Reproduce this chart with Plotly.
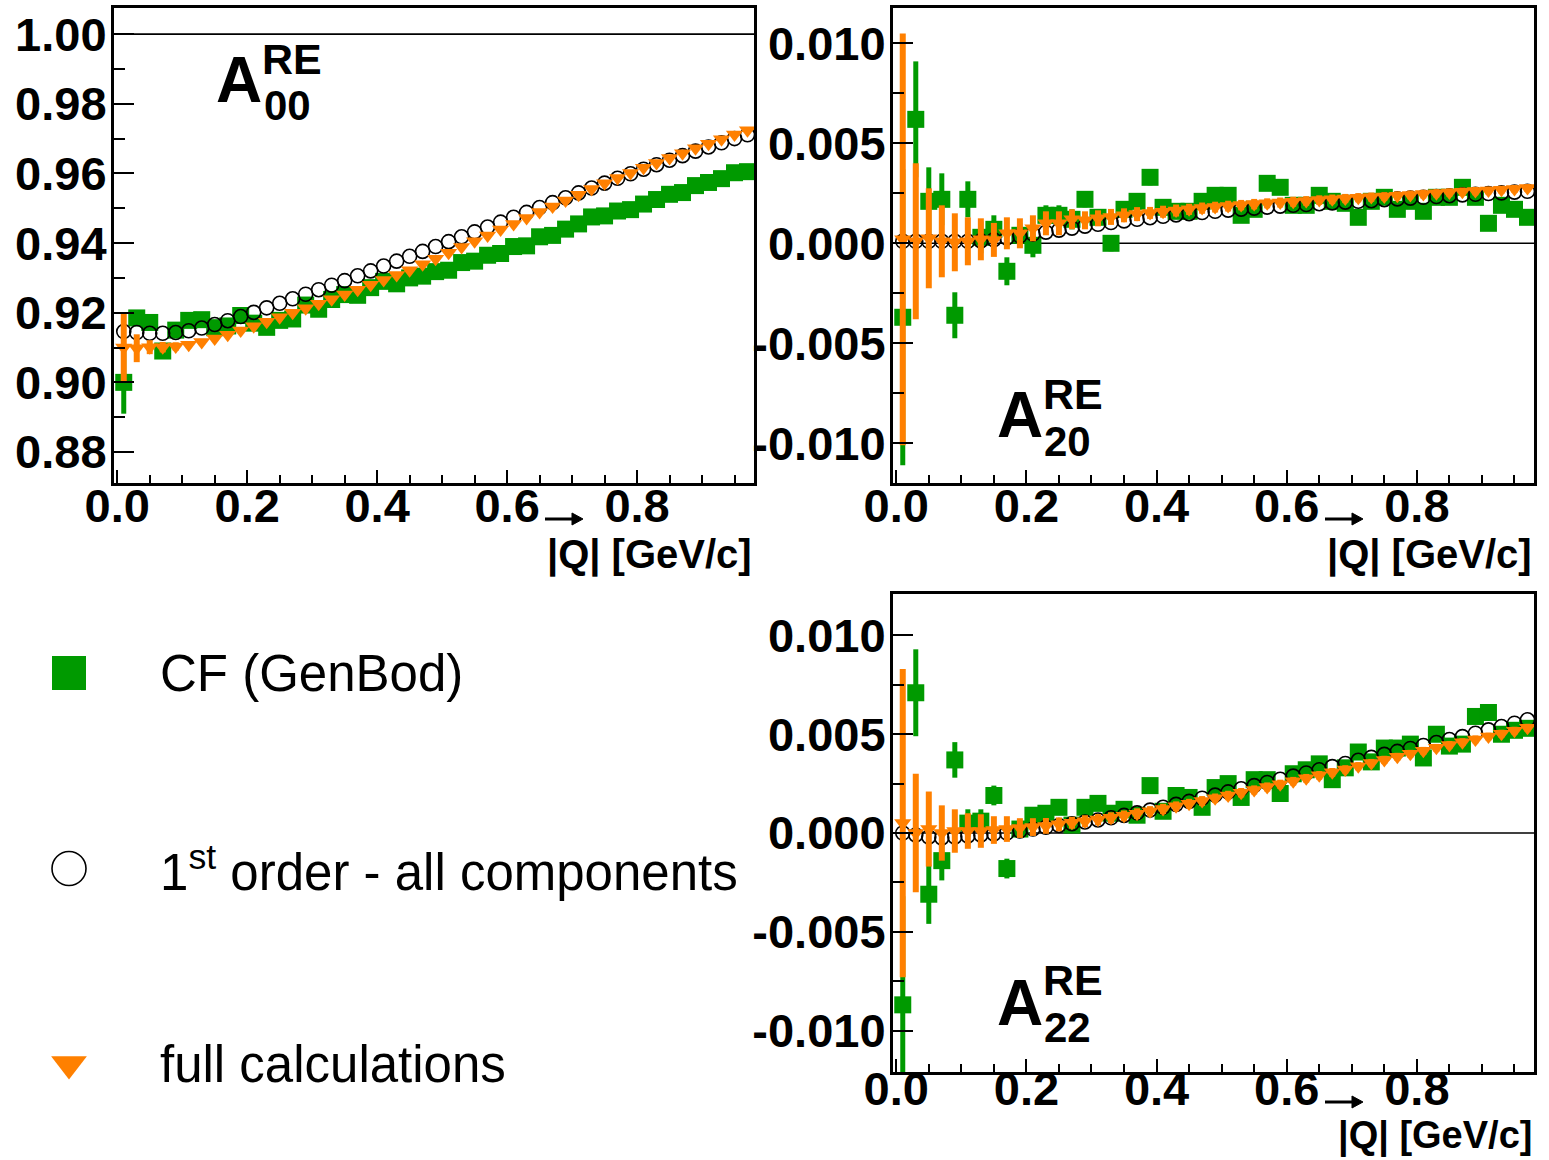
import plotly.graph_objects as go

# ---------------- data ----------------
Q = [0.01, 0.03, 0.05, 0.07, 0.09, 0.11, 0.13, 0.15, 0.17, 0.19,
     0.21, 0.23, 0.25, 0.27, 0.29, 0.31, 0.33, 0.35, 0.37, 0.39,
     0.41, 0.43, 0.45, 0.47, 0.49, 0.51, 0.53, 0.55, 0.57, 0.59,
     0.61, 0.63, 0.65, 0.67, 0.69, 0.71, 0.73, 0.75, 0.77, 0.79,
     0.81, 0.83, 0.85, 0.87, 0.89, 0.91, 0.93, 0.95, 0.97]

# A00 (real part)
A00_CF = [0.9000, 0.9185, 0.9172, 0.9090, 0.9150, 0.9178, 0.9180, 0.9157, 0.9162, 0.9192,
          0.9170, 0.9158, 0.9178, 0.9182, 0.9222, 0.9210, 0.9238, 0.9252, 0.9250, 0.9272,
          0.9290, 0.9283, 0.9300, 0.9305, 0.9318, 0.9322, 0.9344, 0.9348, 0.9365, 0.9370,
          0.9390, 0.9392, 0.9418, 0.9422, 0.9440, 0.9455, 0.9475, 0.9478, 0.9492, 0.9496,
          0.9512, 0.9525, 0.9540, 0.9545, 0.9565, 0.9574, 0.9585, 0.9602, 0.9605]
A00_CF_ERR = [0.0090, 0.0020, 0.0015, 0.0012, 0.0010, 0.0009, 0.0008, 0.0008, 0.0008, 0.0008,
              0.0008, 0.0008, 0.0008, 0.0008, 0.0008, 0.0008, 0.0008, 0.0008, 0.0008, 0.0008,
              0.0008, 0.0008, 0.0008, 0.0008, 0.0008, 0.0008, 0.0008, 0.0008, 0.0008, 0.0008,
              0.0008, 0.0008, 0.0008, 0.0008, 0.0008, 0.0008, 0.0008, 0.0008, 0.0008, 0.0008,
              0.0008, 0.0008, 0.0008, 0.0008, 0.0008, 0.0008, 0.0008, 0.0008, 0.0008]
A00_FIRST = [0.9146, 0.9143, 0.9141, 0.9141, 0.9143, 0.9148, 0.9156, 0.9166, 0.9177, 0.9189,
             0.9201, 0.9214, 0.9227, 0.9240, 0.9253, 0.9266, 0.9279, 0.9292, 0.9306, 0.9320,
             0.9334, 0.9348, 0.9362, 0.9376, 0.9390, 0.9404, 0.9418, 0.9432, 0.9446, 0.9460,
             0.9474, 0.9488, 0.9502, 0.9516, 0.9530, 0.9544, 0.9558, 0.9572, 0.9586, 0.9599,
             0.9612, 0.9625, 0.9638, 0.9651, 0.9664, 0.9676, 0.9688, 0.9700, 0.9711]
A00_FULL = [0.9100, 0.9098, 0.9101, 0.9101, 0.9103, 0.9108, 0.9116, 0.9126, 0.9137, 0.9149,
            0.9161, 0.9174, 0.9187, 0.9200, 0.9213, 0.9226, 0.9239, 0.9252, 0.9266, 0.9280,
            0.9294, 0.9308, 0.9322, 0.9339, 0.9355, 0.9372, 0.9389, 0.9405, 0.9422, 0.9439,
            0.9455, 0.9472, 0.9489, 0.9505, 0.9522, 0.9539, 0.9555, 0.9572, 0.9587, 0.9601,
            0.9616, 0.9630, 0.9644, 0.9658, 0.9672, 0.9685, 0.9698, 0.9712, 0.9724]
A00_FULL_ERR = [0.0100, 0.0040, 0.0020, 0.0015, 0.0012, 0.0010, 0.0009, 0.0008, 0.0008, 0.0008,
                0.0008, 0.0008, 0.0008, 0.0008, 0.0008, 0.0008, 0.0008, 0.0008, 0.0008, 0.0008,
                0.0008, 0.0008, 0.0008, 0.0008, 0.0008, 0.0008, 0.0008, 0.0008, 0.0008, 0.0008,
                0.0008, 0.0008, 0.0008, 0.0008, 0.0008, 0.0008, 0.0008, 0.0008, 0.0008, 0.0008,
                0.0008, 0.0008, 0.0008, 0.0008, 0.0008, 0.0008, 0.0008, 0.0008, 0.0008]

# A20 (real part)
A20_CF = [-0.0037, 0.0062, 0.0021, 0.0022, -0.0036, 0.0022, 0.0003, 0.0007, -0.0014, 0.0004,
          -0.0001, 0.0014, 0.0014, 0.0012, 0.0022, 0.0013, 0.0000, 0.0017, 0.0021, 0.0033,
          0.0018, 0.0016, 0.0016, 0.0021, 0.0024, 0.0024, 0.0014, 0.0017, 0.0030, 0.0028,
          0.0019, 0.0019, 0.0024, 0.0021, 0.0020, 0.0013, 0.0021, 0.0023, 0.0017, 0.0021,
          0.0016, 0.0023, 0.0023, 0.0028, 0.0023, 0.0010, 0.0019, 0.0017, 0.0013]
A20_CF_ERR = [0.0074, 0.0029, 0.0017, 0.0013, 0.00115, 0.0009, 0.0008, 0.0007, 0.0007, 0.0006,
              0.0006, 0.0005, 0.0005, 0.0005, 0.0004, 0.0004, 0.0004, 0.0004, 0.0004, 0.0004,
              0.0003, 0.0003, 0.0003, 0.0003, 0.0003, 0.0003, 0.0003, 0.0003, 0.0003, 0.0003,
              0.0003, 0.0003, 0.0003, 0.0003, 0.0003, 0.0003, 0.0003, 0.0003, 0.0003, 0.0003,
              0.0003, 0.0003, 0.0003, 0.0003, 0.0003, 0.0003, 0.0003, 0.0003, 0.0003]
A20_FIRST = [0.0001, 0.0001, 0.0001, 0.0001, 0.0001, 0.0001, 0.00012, 0.00018, 0.00026, 0.00036,
             0.00046, 0.00056, 0.00066, 0.00076, 0.00086, 0.00095, 0.00104, 0.00112, 0.00120, 0.00128,
             0.00135, 0.00142, 0.00148, 0.00154, 0.00160, 0.00166, 0.00171, 0.00176, 0.00181, 0.00186,
             0.00190, 0.00194, 0.00198, 0.00202, 0.00206, 0.00210, 0.00213, 0.00218, 0.00222, 0.00226,
             0.00230, 0.00234, 0.00238, 0.00242, 0.00245, 0.00249, 0.00252, 0.00256, 0.00260]
A20_FULL = [0.0002, 0.0001, 0.00025, 0.0001, 0.00005, 0.0001, 0.0002, 0.00017, 0.0005, 0.0005,
            0.00075, 0.0010, 0.0010, 0.0012, 0.00115, 0.00125, 0.00132, 0.0014, 0.00146, 0.00152,
            0.00158, 0.00164, 0.0017, 0.00176, 0.00181, 0.00186, 0.00191, 0.00196, 0.0020, 0.00204,
            0.00208, 0.00212, 0.00216, 0.0022, 0.00224, 0.00228, 0.00231, 0.00234, 0.00238, 0.00242,
            0.00246, 0.0025, 0.00254, 0.00258, 0.00261, 0.00264, 0.00268, 0.00272, 0.00276]
A20_FULL_ERR = [0.0103, 0.0039, 0.0025, 0.0018, 0.00145, 0.0012, 0.00105, 0.00085, 0.0008, 0.00075,
                0.00065, 0.0006, 0.0006, 0.0005, 0.00045, 0.0004, 0.0004, 0.00035, 0.00035, 0.0003,
                0.0003, 0.0003, 0.00028, 0.00028, 0.00027, 0.00027, 0.00026, 0.00026, 0.00025, 0.00025,
                0.00025, 0.00024, 0.00024, 0.00024, 0.00023, 0.00023, 0.00023, 0.00022, 0.00022, 0.00022,
                0.00022, 0.00021, 0.00021, 0.00021, 0.00021, 0.0002, 0.0002, 0.0002, 0.0002]

# A22 (real part)
A22_CF = [-0.0087, 0.0071, -0.0031, -0.0014, 0.0037, 0.0005, 0.0006, 0.0019, -0.0018, 0.0002,
          0.0009, 0.0010, 0.0013, 0.0004, 0.0013, 0.0015, 0.0010, 0.0012, 0.0009, 0.0024,
          0.0011, 0.0019, 0.0018, 0.0013, 0.0023, 0.0025, 0.0018, 0.0027, 0.0027, 0.0020,
          0.0030, 0.0032, 0.0035, 0.0027, 0.0033, 0.0041, 0.0036, 0.0043, 0.0043, 0.0045,
          0.0038, 0.0050, 0.0044, 0.0045, 0.0059, 0.0061, 0.0050, 0.0052, 0.0053]
A22_CF_ERR = [0.0055, 0.0022, 0.0015, 0.0010, 0.0009, 0.0007, 0.0006, 0.0005, 0.0005, 0.0004,
              0.0003, 0.0003, 0.0003, 0.0003, 0.0003, 0.0003, 0.0003, 0.0003, 0.0003, 0.0003,
              0.0003, 0.0003, 0.0003, 0.0003, 0.0003, 0.0003, 0.0003, 0.0003, 0.0003, 0.0003,
              0.0003, 0.0003, 0.0003, 0.0003, 0.0003, 0.0003, 0.0003, 0.0003, 0.0003, 0.0003,
              0.0003, 0.0003, 0.0003, 0.0003, 0.0003, 0.0003, 0.0003, 0.0003, 0.0003]
A22_FIRST = [0.0000, -0.0001, -0.0002, -0.00025, -0.0002, -0.00015, -0.0001, -0.00005, 0.0000, 0.0001,
             0.0002, 0.00029, 0.00038, 0.00047, 0.00056, 0.00066, 0.00077, 0.00089, 0.00102, 0.00116,
             0.0013, 0.00145, 0.0016, 0.00176, 0.00192, 0.00208, 0.00224, 0.0024, 0.00256, 0.00272,
             0.00288, 0.00304, 0.0032, 0.00336, 0.00352, 0.00368, 0.00383, 0.00398, 0.00413, 0.00428,
             0.00443, 0.00458, 0.00473, 0.00488, 0.00505, 0.00522, 0.00539, 0.00556, 0.00573]
A22_FULL = [0.0005, 0.0000, 0.0002, 0.0000, 0.0001, 0.0001, 0.0001, 0.00015, 0.0002, 0.00025,
            0.0003, 0.00036, 0.00044, 0.00052, 0.0006, 0.00068, 0.00077, 0.00087, 0.00098, 0.0011,
            0.00122, 0.00135, 0.00148, 0.00162, 0.00176, 0.0019, 0.00204, 0.00218, 0.00233, 0.00247,
            0.00262, 0.00277, 0.00292, 0.00307, 0.00322, 0.00338, 0.00354, 0.0037, 0.00386, 0.00401,
            0.00416, 0.00431, 0.00446, 0.0046, 0.00474, 0.00488, 0.00503, 0.00518, 0.00533]
A22_FULL_ERR = [0.0078, 0.0030, 0.0019, 0.0014, 0.0011, 0.0009, 0.00085, 0.0007, 0.00065, 0.0005,
                0.00045, 0.0004, 0.00035, 0.0003, 0.0003, 0.00028, 0.00028, 0.00027, 0.00027, 0.00026,
                0.00026, 0.00025, 0.00025, 0.00025, 0.00024, 0.00024, 0.00024, 0.00023, 0.00023, 0.00023,
                0.00022, 0.00022, 0.00022, 0.00022, 0.00021, 0.00021, 0.00021, 0.00021, 0.0002, 0.0002,
                0.0002, 0.0002, 0.0002, 0.0002, 0.0002, 0.0002, 0.0002, 0.0002, 0.0002]

SERIES_NAMES = ["CF (GenBod)", "1<sup>st</sup> order - all components", "full calculations"]
X_TICKS = [0.0, 0.2, 0.4, 0.6, 0.8]
X_TICK_TEXT = ["0.0", "0.2", "0.4", "0.6", "0.8"]
A00_TICKS = [0.88, 0.90, 0.92, 0.94, 0.96, 0.98, 1.00]
A00_TICK_TEXT = ["0.88", "0.90", "0.92", "0.94", "0.96", "0.98", "1.00"]
A2X_TICKS = [-0.010, -0.005, 0.0, 0.005, 0.010]
A2X_TICK_TEXT = ["-0.010", "-0.005", "0.000", "0.005", "0.010"]
X_TITLE = "|Q| [GeV/c]"

# ---------------- style ----------------
W, H = 1549, 1160
GREEN = "#009a00"
ORANGE = "#ff8000"
FONT = "Liberation Sans, Arial, Helvetica, sans-serif"


def px_x(p):
    return p / W


def px_y(p):
    return 1 - p / H


fig = go.Figure()

panels = [
    ("x", "y", A00_CF, A00_CF_ERR, A00_FIRST, A00_FULL, A00_FULL_ERR),
    ("x2", "y2", A20_CF, A20_CF_ERR, A20_FIRST, A20_FULL, A20_FULL_ERR),
    ("x3", "y3", A22_CF, A22_CF_ERR, A22_FIRST, A22_FULL, A22_FULL_ERR),
]

for xa, ya, cf, cf_err, first, full, full_err in panels:
    fig.add_trace(go.Scatter(
        x=Q, y=cf, xaxis=xa, yaxis=ya, mode="markers", showlegend=False,
        marker=dict(symbol="square", size=17, color=GREEN, line=dict(width=0)),
        error_y=dict(type="data", array=cf_err, thickness=5, width=0, color=GREEN)))
    fig.add_trace(go.Scatter(
        x=Q, y=first, xaxis=xa, yaxis=ya, mode="markers", showlegend=False,
        marker=dict(symbol="circle-open", size=14, color="black", line=dict(width=1.6))))
    fig.add_trace(go.Scatter(
        x=Q, y=full, xaxis=xa, yaxis=ya, mode="markers", showlegend=False,
        marker=dict(symbol="triangle-down", size=15, color=ORANGE, line=dict(width=0)),
        error_y=dict(type="data", array=full_err, thickness=6, width=0, color=ORANGE)))

# legend keys on a hidden helper axis
LEG_ORDER = [SERIES_NAMES[2], SERIES_NAMES[1], SERIES_NAMES[0]]
LEG_KEY_X = 69
fig.add_trace(go.Scatter(x=[LEG_KEY_X], y=[SERIES_NAMES[0]], xaxis="x4", yaxis="y4", mode="markers",
                         showlegend=False,
                         marker=dict(symbol="square", size=34, color=GREEN)))
fig.add_trace(go.Scatter(x=[LEG_KEY_X], y=[SERIES_NAMES[1]], xaxis="x4", yaxis="y4", mode="markers",
                         showlegend=False,
                         marker=dict(symbol="circle-open", size=34, color="black", line=dict(width=1.6))))
fig.add_trace(go.Scatter(x=[LEG_KEY_X], y=[SERIES_NAMES[2]], xaxis="x4", yaxis="y4", mode="markers",
                         showlegend=False,
                         marker=dict(symbol="triangle-down", size=31, color=ORANGE)))

tickfont = dict(family=FONT, size=47, color="black", weight="bold")


def xaxis_cfg(dom, anchor, standoff=-20):
    return dict(domain=dom, anchor=anchor, range=[-0.005, 0.98], automargin=False,
                tickmode="array", tickvals=X_TICKS, ticktext=X_TICK_TEXT,
                ticks="inside", ticklen=13, tickwidth=2, tickcolor="black",
                minor=dict(tickmode="linear", tick0=0, dtick=0.05, ticks="inside",
                           ticklen=8, tickwidth=2, tickcolor="black"),
                showline=True, linewidth=3, linecolor="black", mirror=True,
                showgrid=False, zeroline=False, tickfont=tickfont, ticklabelstandoff=standoff)


def yaxis_cfg(dom, anchor, rng, tv, tt, minor_dt):
    return dict(domain=dom, anchor=anchor, range=rng, automargin=False,
                tickmode="array", tickvals=tv, ticktext=tt,
                ticks="inside", ticklen=20, tickwidth=2, tickcolor="black",
                minor=dict(tickmode="linear", tick0=0, dtick=minor_dt, ticks="inside",
                           ticklen=11, tickwidth=2, tickcolor="black"),
                showline=True, linewidth=3, linecolor="black", mirror=True,
                showgrid=False, zeroline=False, tickfont=tickfont, ticklabelstandoff=-5)


TL_X = [px_x(114), px_x(754)]
TR_X = [px_x(893), px_x(1534)]
TOP_Y = [px_y(483), px_y(8)]
BOT_Y = [px_y(1072), px_y(594)]

fig.update_layout(
    width=W, height=H, margin=dict(l=0, r=0, t=0, b=0, autoexpand=False),
    paper_bgcolor="white", plot_bgcolor="white", showlegend=False,
    xaxis=xaxis_cfg(TL_X, "y"),
    yaxis=yaxis_cfg(TOP_Y, "x", [0.8711, 1.0075], A00_TICKS, A00_TICK_TEXT, 0.01),
    xaxis2=xaxis_cfg(TR_X, "y2"),
    yaxis2=yaxis_cfg(TOP_Y, "x2", [-0.01199, 0.01177], A2X_TICKS, A2X_TICK_TEXT, 0.0025),
    xaxis3=xaxis_cfg(TR_X, "y3", standoff=-26),
    yaxis3=yaxis_cfg(BOT_Y, "x3", [-0.0121, 0.0121], A2X_TICKS, A2X_TICK_TEXT, 0.0025),
    xaxis4=dict(domain=[0, 0.45], anchor="y4", range=[0, 0.45 * W], visible=False, automargin=False),
    yaxis4=dict(domain=[0, 0.5], anchor="x4", type="category", categoryarray=LEG_ORDER,
                categoryorder="array", range=[-0.491, 2.476], visible=False, automargin=False),
)

# reference lines
for xa, yv in (("x", 1.0), ("x2", 0.0), ("x3", 0.0)):
    ya = "y" + xa[1:]
    fig.add_shape(type="line", xref=xa + " domain", x0=0, x1=1, yref=ya, y0=yv, y1=yv,
                  line=dict(color="black", width=1.6), layer="below")

# vector arrows over Q (decoration)
for head_x, ay in ((583, 519), (1363, 519), (1363, 1102)):
    fig.add_shape(type="line", xref="paper", yref="paper",
                  x0=px_x(head_x - 38), x1=px_x(head_x - 8), y0=px_y(ay), y1=px_y(ay),
                  line=dict(color="black", width=3))
    fig.add_shape(type="path", xref="paper", yref="paper",
                  path="M {:.5f},{:.5f} L {:.5f},{:.5f} L {:.5f},{:.5f} Z".format(
                      px_x(head_x), px_y(ay), px_x(head_x - 11), px_y(ay - 6),
                      px_x(head_x - 11), px_y(ay + 6)),
                  fillcolor="black", line=dict(color="black", width=1))

ann = []
# panel labels
for (ax_c, ay_c), (rx, ry), (sx, sy), sub in (
        ((239, 80), (292, 59), (287, 105), "00"),
        ((1020, 415), (1073, 394), (1067, 441), "20"),
        ((1020, 1003), (1073, 980), (1067, 1027), "22")):
    ann.append(dict(x=px_x(ax_c), y=px_y(ay_c), text="A", font=dict(family=FONT, size=64, color="black", weight="bold")))
    ann.append(dict(x=px_x(rx), y=px_y(ry), text="RE", font=dict(family=FONT, size=43, color="black", weight="bold")))
    ann.append(dict(x=px_x(sx), y=px_y(sy), text=sub, font=dict(family=FONT, size=42, color="black", weight="bold")))

# axis titles
for right, ty in ((754, 554), (1534, 554)):
    ann.append(dict(x=px_x(right), y=px_y(ty), xanchor="right", text=X_TITLE,
                    font=dict(family=FONT, size=40, color="black", weight="bold")))
ann.append(dict(x=px_x(1534), y=px_y(1159), xanchor="right", yanchor="bottom", text=X_TITLE,
                font=dict(family=FONT, size=38, color="black", weight="bold")))

# legend text
for name in SERIES_NAMES:
    ann.append(dict(x=px_x(158), xref="paper", y=name, yref="y4", xanchor="left", text=name,
                    font=dict(family=FONT, size=51, color="black")))

for a in ann:
    a.setdefault("xref", "paper")
    a.setdefault("yref", "paper")
    a.setdefault("showarrow", False)
    a.setdefault("xanchor", "center")
    a.setdefault("yanchor", "middle")
    fig.add_annotation(**a)

fig.write_html("out.html", config={"displayModeBar": False},
               post_script="document.body.style.margin='0';")
